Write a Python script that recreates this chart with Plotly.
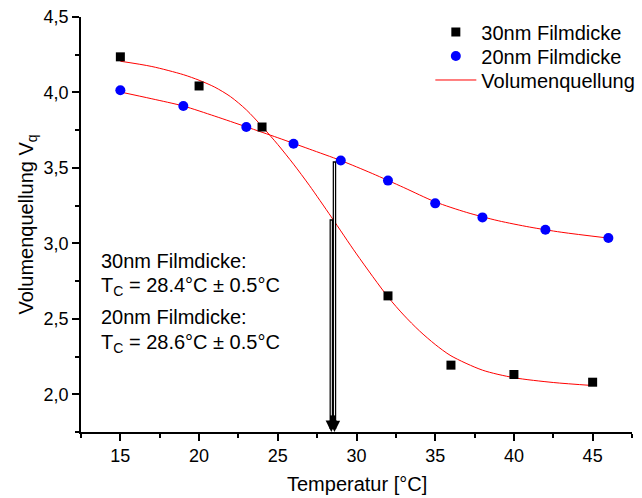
import plotly.graph_objects as go

# 30nm film thickness data (squares)
x30 = [15, 20, 24, 32, 36, 40, 45]
y30 = [4.236, 4.043, 3.771, 2.652, 2.193, 2.131, 2.080]

# 20nm film thickness data (circles)
x20 = [15, 19, 23, 26, 29, 32, 35, 38, 42, 46]
y20 = [4.015, 3.910, 3.771, 3.660, 3.549, 3.416, 3.265, 3.172, 3.090, 3.035]

# fit curves
fx30 = [15, 17, 19, 20, 21, 22, 23, 24, 25, 26, 27, 28.4, 30, 32, 33, 34, 35, 36, 38, 40, 42.5, 45]
fy30 = [4.207, 4.172, 4.118, 4.081, 4.035, 3.972, 3.885, 3.775, 3.655, 3.525, 3.385, 3.175,
        2.930, 2.645, 2.525, 2.420, 2.330, 2.255, 2.160, 2.110, 2.078, 2.058]
fx20 = [15, 17, 19, 21, 23, 25, 27, 29, 31, 33, 35, 37, 39, 41, 43, 46]
fy20 = [4.003, 3.958, 3.910, 3.843, 3.772, 3.700, 3.625, 3.549, 3.463, 3.370, 3.275,
        3.205, 3.150, 3.108, 3.074, 3.035]

# transition temperatures and arrow tops
tc = [28.4, 28.6]
tc_top = [3.170, 3.554]

x_ticks = [15, 20, 25, 30, 35, 40, 45]
y_ticks = [2.0, 2.5, 3.0, 3.5, 4.0, 4.5]

FONT = "Liberation Sans, Arial, sans-serif"

fig = go.Figure()
fig.add_trace(go.Scatter(x=fx30, y=fy30, mode="lines", line=dict(color="#FF0000", width=1, shape="spline", smoothing=0.8),
                         name="Volumenquellung", showlegend=False))
fig.add_trace(go.Scatter(x=fx20, y=fy20, mode="lines", line=dict(color="#FF0000", width=1, shape="spline", smoothing=0.8),
                         name="Volumenquellung", showlegend=False))
fig.add_trace(go.Scatter(x=x30, y=y30, mode="markers", name="30nm Filmdicke", legend="legend",
                         marker=dict(symbol="square", size=9, color="black")))
fig.add_trace(go.Scatter(x=x20, y=y20, mode="markers", name="20nm Filmdicke", legend="legend2",
                         marker=dict(symbol="circle", size=10, color="#0000FF")))
fig.add_trace(go.Scatter(x=[None], y=[None], mode="lines", line=dict(color="#FF0000", width=1),
                         name="Volumenquellung", legend="legend3"))

annotations = []
for t, top in zip(tc, tc_top):
    annotations.append(dict(x=t, y=1.75, ax=t, ay=top, xref="x", yref="y", axref="x", ayref="y",
                            text="", showarrow=True, arrowhead=2, arrowsize=0.65, arrowwidth=3.5,
                            arrowcolor="black", standoff=0))
for t, top in zip(tc, tc_top):
    annotations.append(dict(x=t, y=1.86, ax=t, ay=top - 0.01, xref="x", yref="y", axref="x", ayref="y",
                            text="", showarrow=True, arrowhead=0, arrowwidth=1,
                            arrowcolor="white", standoff=0))

text_lines = ["30nm Filmdicke:", "T<sub>C</sub> = 28.4°C ± 0.5°C",
              "20nm Filmdicke:", "T<sub>C</sub> = 28.6°C ± 0.5°C"]
text_y = [2.885, 2.712, 2.51, 2.338]
for s, ty in zip(text_lines, text_y):
    annotations.append(dict(x=13.65, y=ty, xref="x", yref="y", text=s, showarrow=False,
                            xanchor="left", yanchor="middle", font=dict(family=FONT, size=20, color="black")))

# axis titles
annotations.append(dict(x=0.5, y=-0.125, xref="paper", yref="paper", text="Temperatur [°C]",
                        showarrow=False, xanchor="center", yanchor="middle",
                        font=dict(family=FONT, size=20, color="black")))
annotations.append(dict(x=-0.098, y=0.5, xref="paper", yref="paper", text="Volumenquellung V<sub>q</sub>",
                        showarrow=False, xanchor="center", yanchor="middle", textangle=-90,
                        font=dict(family=FONT, size=20, color="black")))

leg_common = dict(xanchor="left", yanchor="middle", bgcolor="rgba(0,0,0,0)", itemwidth=41,
                  font=dict(family=FONT, size=20, color="black"))

fig.update_layout(
    width=642, height=498,
    margin=dict(l=81, r=10, t=17, b=66, autoexpand=False),
    paper_bgcolor="white", plot_bgcolor="white",
    separators=",.",
    font=dict(family=FONT, color="black"),
    showlegend=True,
    legend=dict(x=0.634, y=0.9638, **leg_common),
    legend2=dict(x=0.634, y=0.9060, **leg_common),
    legend3=dict(x=0.634, y=0.8482, **leg_common),
    annotations=annotations,
    xaxis=dict(range=[12.5, 47.5], tickvals=x_ticks, showgrid=False, zeroline=False, automargin=False,
               showline=True, linecolor="black", linewidth=1.5, ticks="outside", ticklen=7,
               tickwidth=1.5, tickcolor="black", tickfont=dict(family=FONT, size=18),
               minor=dict(dtick=2.5, tick0=12.5, ticks="outside", ticklen=4, tickwidth=1.5, tickcolor="black", showgrid=False)),
    yaxis=dict(range=[1.75, 4.5], tickvals=y_ticks, tickformat=".1f", showgrid=False, zeroline=False, automargin=False,
               showline=True, linecolor="black", linewidth=1.5, ticks="outside", ticklen=7,
               tickwidth=1.5, tickcolor="black", tickfont=dict(family=FONT, size=18),
               minor=dict(dtick=0.25, tick0=1.75, ticks="outside", ticklen=4, tickwidth=1.5, tickcolor="black", showgrid=False)),
)

fig.write_html("out.html", config={"displayModeBar": False},
               post_script="document.body.style.margin='0';document.body.style.overflow='hidden';")
